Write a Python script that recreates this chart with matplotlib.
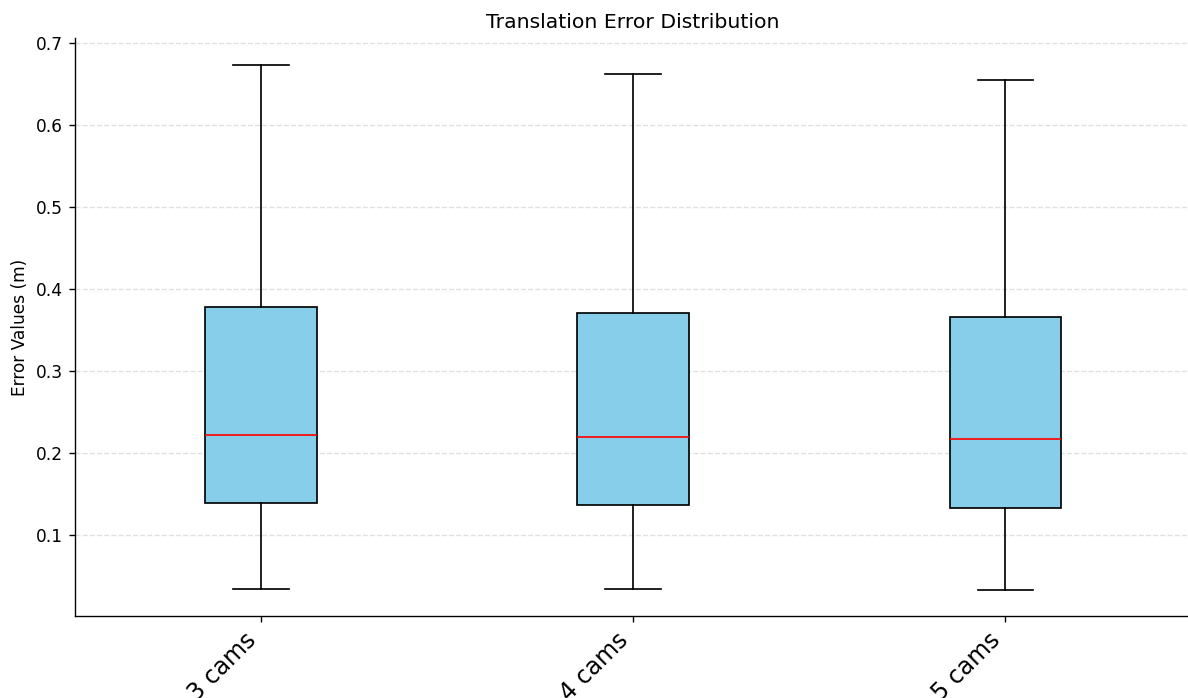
import matplotlib
matplotlib.use("Agg")
import matplotlib.pyplot as plt

# Summary statistics of translation error (m) per camera setup
labels = ["3 cams", "4 cams", "5 cams"]
medians = [0.222, 0.220, 0.217]
q1 = [0.139, 0.137, 0.133]
q3 = [0.378, 0.371, 0.366]
whisker_low = [0.034, 0.034, 0.033]
whisker_high = [0.674, 0.662, 0.655]

stats = []
for i in range(len(labels)):
    stats.append({
        "label": labels[i],
        "med": medians[i],
        "q1": q1[i],
        "q3": q3[i],
        "whislo": whisker_low[i],
        "whishi": whisker_high[i],
        "fliers": [],
    })

dpi = 122
fig, ax = plt.subplots(figsize=(1188 / dpi, 698 / dpi), dpi=dpi)
fig.subplots_adjust(left=0.063, right=1.003, top=0.945, bottom=0.117)

ax.bxp(stats, patch_artist=True, showfliers=False,
       boxprops=dict(facecolor="skyblue", edgecolor="black"),
       medianprops=dict(color="red"))

ax.set_title("Translation Error Distribution", fontsize=12)
ax.set_ylabel("Error Values (m)")
plt.setp(ax.get_xticklabels(), rotation=45, ha="right", fontsize=14)

ax.yaxis.grid(True, linestyle="--", alpha=0.7, color="lightgray")
ax.set_axisbelow(True)
ax.spines["top"].set_visible(False)
ax.spines["right"].set_visible(False)

fig.savefig("out.png", dpi=dpi)
